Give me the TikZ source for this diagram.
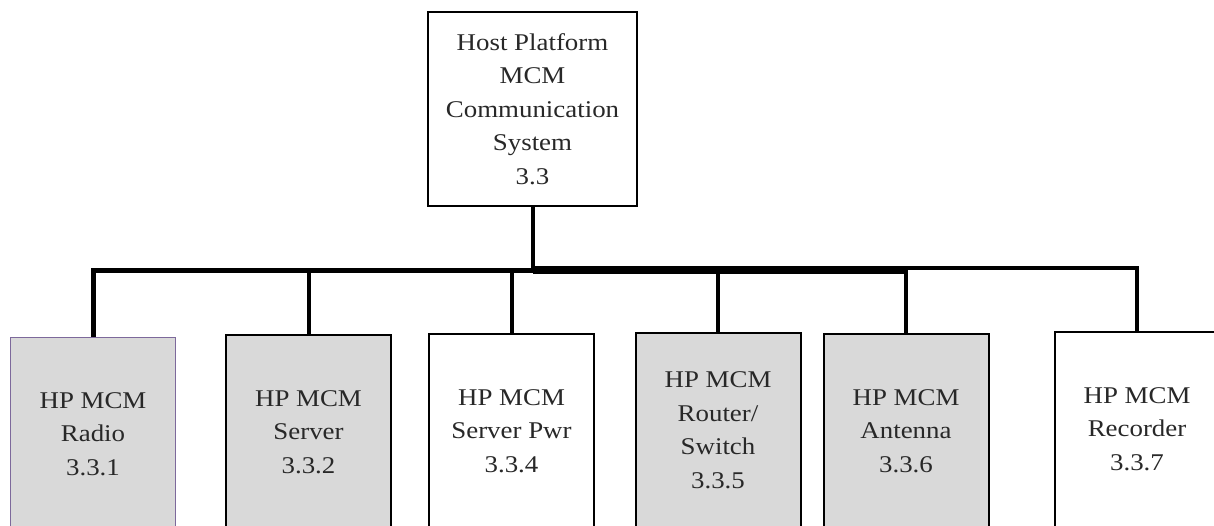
\documentclass[tikz,border=0pt]{standalone}
\usepackage{fontspec}
\setmainfont{Liberation Serif}[FakeStretch=1.12]
\usetikzlibrary{calc}
\definecolor{boxgray}{RGB}{217,217,217}
\definecolor{radioedge}{RGB}{125,105,155}
\definecolor{inktext}{RGB}{40,40,40}
\begin{document}
\begin{tikzpicture}[x=1pt,y=-1pt,
  unit/.style={draw=black, line width=2pt, minimum width=165pt, minimum height=194pt,
    align=center, inner sep=0pt, text=inktext,
    font=\fontsize{24}{33.4}\selectfont},
  % child boxes run past the lower edge; a deep strut keeps the text high
  child/.style={unit, minimum height=240pt,
    execute at end node={\rule[-46pt]{0pt}{46pt}}},
  shaded/.style={child, fill=boxgray},
  plain/.style={child, fill=white},
  stem/.style={line width=4pt},
  busleft/.style={line width=5pt},
  busmid/.style={line width=8pt},
]
\useasboundingbox (0,0) rectangle (1214,525);
\clip (0,0) rectangle (1214,525);

% parent system
\node[unit, fill=white, minimum width=209pt] (sys) at (532.5,109)
  {Host Platform\\MCM\\Communication\\System\\3.3};

% subsystems (top edge near y = 334)
\node[shaded, draw=radioedge, line width=1pt] (radio) at (93,457)
  {HP MCM\\Radio\\3.3.1};
\node[shaded] (server) at (308.5,455) {HP MCM\\Server\\3.3.2};
\node[plain]  (pwr)    at (511.5,454) {HP MCM\\Server Pwr\\3.3.4};
\node[shaded] (router) at (718,453)   {HP MCM\\Router/\\Switch\\3.3.5};
\node[shaded] (antenna) at (906,454)  {HP MCM\\Antenna\\3.3.6};
\node[plain]  (recorder) at (1137,452) {HP MCM\\Recorder\\3.3.7};

% bus junctions
\coordinate (hub) at (sys.south |- 0,270);
\coordinate (j1) at (radio.north |- hub);
\coordinate (j2) at (server.north |- hub);
\coordinate (j3) at (pwr.north |- hub);
\coordinate (j4) at (router.north |- hub);
\coordinate (j5) at (antenna.north |- hub);
\coordinate (j6) at (recorder.north |- 0,268);
\coordinate (j5r) at (antenna.north |- 0,268);

% connectors
\draw[stem] (sys.south) -- (hub);
\draw[busleft, line join=miter] (radio.north) -- (j1) -- (hub);
\draw[busmid] (hub) -- (j5);
\draw[stem, line join=miter] (recorder.north) -- (j6) -- (j5r);
\draw[stem] (server.north) -- (j2);
\draw[stem] (pwr.north) -- (j3);
\draw[stem] (router.north) -- (j4);
\draw[stem] (antenna.north) -- (j5);
\end{tikzpicture}
\end{document}
